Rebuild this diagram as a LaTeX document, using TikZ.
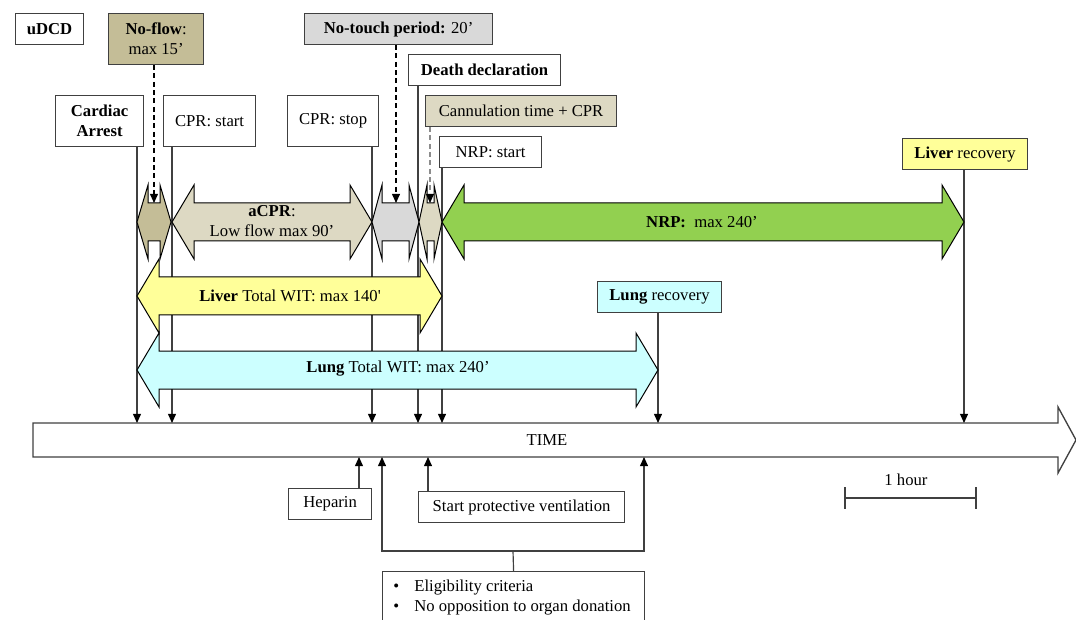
\documentclass[tikz,border=0pt]{standalone}
\usepackage{fontspec}
\setmainfont{Liberation Serif}
\usepackage{xcolor}
\usetikzlibrary{arrows.meta,calc,positioning}
\definecolor{tanD}{HTML}{C4BD97}
\definecolor{tanL}{HTML}{DDD9C3}
\definecolor{greyL}{HTML}{D9D9D9}
\definecolor{nrpgreen}{HTML}{92D050}
\definecolor{livery}{HTML}{FFFF99}
\definecolor{lungc}{HTML}{CCFFFF}
\definecolor{edge}{HTML}{404040}
\tikzset{
	box/.style={draw=edge, line width=0.7pt, fill=white, inner sep=0pt, anchor=north west, align=center},
	conn/.style={draw=edge, line width=0.7pt, -{Triangle[length=5.5pt,width=4.8pt,color=black]}},
	dasharr/.style={conn, draw=black, dash pattern=on 3pt off 2pt},
	blk/.style={draw=black, line width=0.6pt},
	txt/.style={inner sep=0pt, align=center},
}
% double block arrow: x1, x2, y centre, head length, fill
\newcommand{\timespan}[5]{%
	\draw[blk, fill=#5] (#1,#3) -- (#1+#4,#3-37) -- (#1+#4,#3-19) -- (#2-#4,#3-19) -- (#2-#4,#3-37) -- (#2,#3)
	-- (#2-#4,#3+37) -- (#2-#4,#3+19) -- (#1+#4,#3+19) -- (#1+#4,#3+37) -- cycle;}
\begin{document}
\begin{tikzpicture}[x=0.6pt, y=-0.6pt, font=\fontsize{10}{12}\selectfont]
	\useasboundingbox (0,0) rectangle (1076,620);
	\clip (0,0) rectangle (1076,620);
	%
	% time axis
	\draw[blk, draw=edge, line width=0.8pt, fill=white] (33,423) -- (1058,423) -- (1058,407) -- (1076,440) -- (1058,473) -- (1058,457) -- (33,457) -- cycle;
	\node[txt] (time) at (547,440) {TIME};
	\coordinate (tCA) at (137,423);
	\coordinate (tCS) at (172,423);
	\coordinate (tCP) at (372,423);
	\coordinate (tDD) at (418,423);
	\coordinate (tNR) at (442,423);
	\coordinate (tLU) at (658,423);
	\coordinate (tLI) at (964,423);
	\coordinate (tHE) at (359,457);
	\coordinate (tVE) at (428,457);
	\coordinate (tEL) at (382,457);
	\coordinate (tER) at (644,457);
	
	% boxes above
	\node[box, minimum width=40.8pt, minimum height=18.6pt, font=\bfseries] (udcd) at (15,13) {uDCD};
	\node[box, fill=tanD, minimum width=57pt, minimum height=30.6pt] (noflow) at (108,13) {\textbf{No-flow}:\\max 15’};
	\node[box, fill=greyL, minimum width=112.8pt, minimum height=18.6pt] (notouch) at (304,13) {\textbf{No-touch period:} 20’};
	\node[box, minimum width=91.2pt, minimum height=18.6pt, font=\bfseries] (death) at (408,54) {Death declaration};
	\node[box, fill=tanL, minimum width=114.6pt, minimum height=18.6pt] (cannul) at (425,95) {Cannulation time + CPR};
	\node[box, minimum width=61.2pt, minimum height=18.6pt] (nrpst) at (439,136) {NRP: start};
	\node[box, minimum width=52.8pt, minimum height=30.6pt, font=\bfseries] (ca) at (55,95) {Cardiac\\Arrest};
	\node[box, minimum width=55.2pt, minimum height=30.6pt] (cprst) at (163,95) {CPR: start};
	\node[box, minimum width=54.6pt, minimum height=30.6pt] (cprsp) at (287,95) {CPR: stop};
	\node[box, fill=livery, minimum width=75pt, minimum height=18.6pt] (liverrec) at (902,138) {\textbf{Liver} recovery};
	\node[box, fill=lungc, minimum width=74.4pt, minimum height=18.6pt] (lungrec) at (597,281) {\textbf{Lung} recovery};
	
	% boxes below
	\node[box, minimum width=49.8pt, minimum height=18.6pt] (heparin) at (288,488) {Heparin};
	\node[box, minimum width=123.6pt, minimum height=18.6pt] (ventil) at (418,491) {Start protective ventilation};
	\node[box, minimum width=157.2pt, minimum height=36pt] (elig) at (382,571) {};
	\node[anchor=north west, inner sep=0pt] (eligtxt) at (393,577) {\begin{tabular}{@{}p{12.6pt}@{}l@{}}
			•& Eligibility criteria\\
			•& No opposition to organ donation
		\end{tabular}};
	
	% events onto the time axis
	\draw[conn] (ca.south -| tCA) -- (tCA);
	\draw[conn] (cprst.south -| tCS) -- (tCS);
	\draw[conn] (cprsp.south -| tCP) -- (tCP);
	\draw[conn] (death.south -| tDD) -- (tDD);
	\draw[conn] (nrpst.south -| tNR) -- (tNR);
	\draw[conn] (lungrec.south -| tLU) -- (tLU);
	\draw[conn] (liverrec.south -| tLI) -- (tLI);
	\draw[conn] (heparin.north -| tHE) -- (tHE);
	\draw[conn] (ventil.north -| tVE) -- (tVE);
	\coordinate (bk) at (513,551);
	\draw[draw=edge, line width=0.7pt] (elig.north) -- (bk);
	\draw[conn] (bk) -| (tEL);
	\draw[conn] (bk) -| (tER);
	
	% phases
	\timespan{137}{171}{222}{11}{tanD}
	\timespan{172}{372}{222}{22}{tanL}
	\timespan{372}{419}{222}{10}{greyL}
	\timespan{419}{442}{222}{8}{tanL}
	\timespan{442}{964}{222}{22}{nrpgreen}
	\timespan{137}{442}{296}{22}{livery}
	\timespan{137}{658}{370}{22}{lungc}
	\node[txt] (acpr) at (272,221) {\textbf{aCPR}:\\Low flow max 90’};
	\node[txt] (nrp) at (702,222) {\textbf{NRP:}~~max 240’};
	\node[txt] (liverwit) at (290,296) {\textbf{Liver} Total WIT: max 140\textquotesingle};
	\node[txt] (lungwit) at (398,369) {\textbf{Lung} Total WIT: max 240’};
	
	% dashed pointers
	\coordinate (nfend) at (154,203);
	\coordinate (ntend) at (396,203);
	\coordinate (cnend) at (430,203);
	\draw[dasharr] (noflow.south -| nfend) -- (nfend);
	\draw[dasharr] (notouch.south -| ntend) -- (ntend);
	\draw[dasharr, draw=black!45] (cannul.south -| cnend) -- (cnend);
	
	% scale
	\draw[draw=edge, line width=0.7pt] (845,487) -- (845,509) (845,498) -- (976,498) (976,487) -- (976,509);
	\node[txt] (hour) at (906,480) {1 hour};
\end{tikzpicture}
\end{document}
